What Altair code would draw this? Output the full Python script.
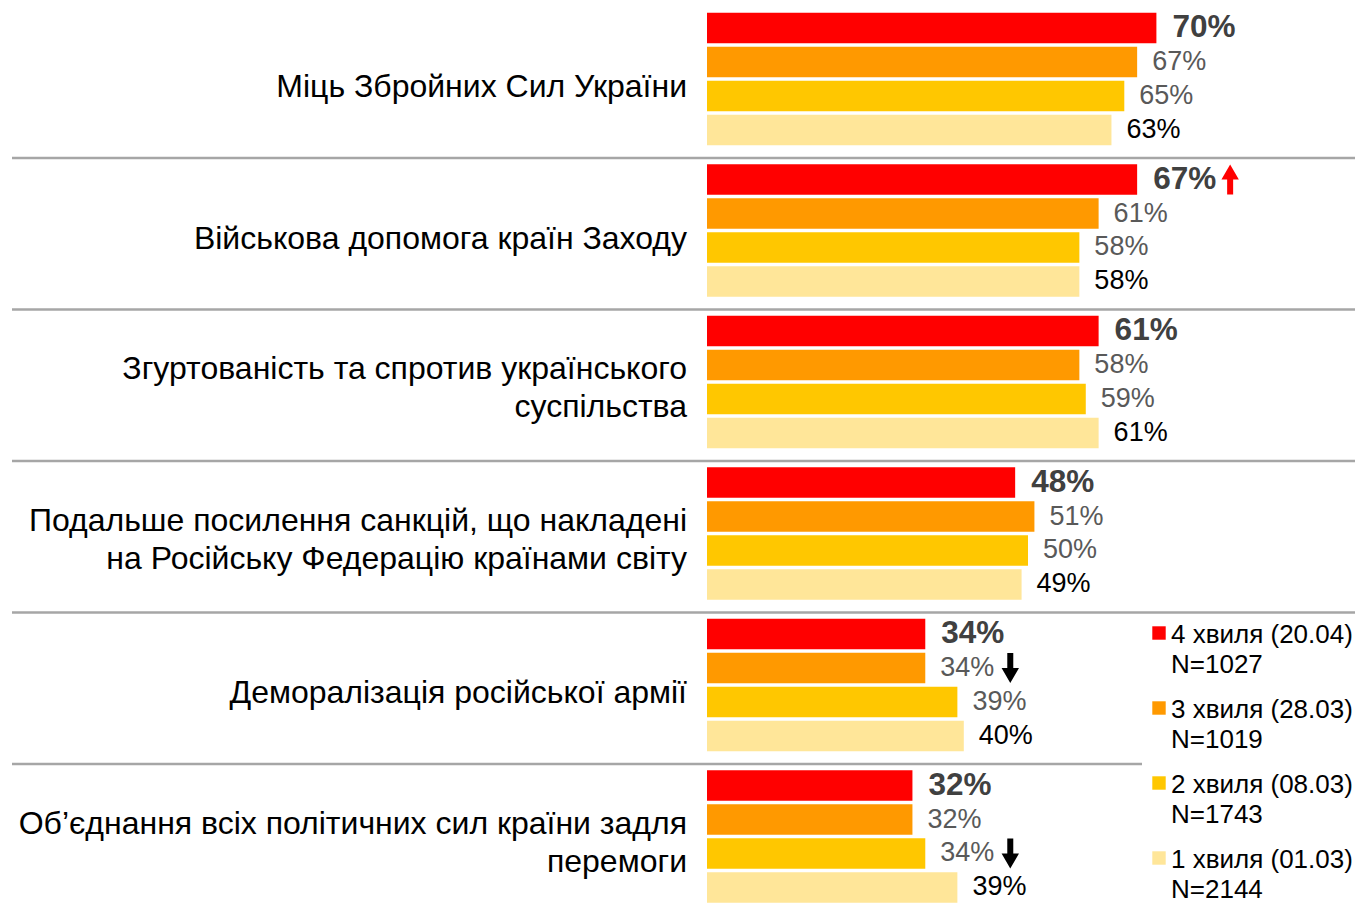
import altair as alt
import pandas as pd

# ---------------- data ----------------
categories = [
    "Міць Збройних Сил України",
    "Військова допомога країн Заходу",
    "Згуртованість та спротив українського\nсуспільства",
    "Подальше посилення санкцій, що накладені\nна Російську Федерацію країнами світу",
    "Деморалізація російської армії",
    "Об’єднання всіх політичних сил країни задля\nперемоги",
]
waves = ["4 хвиля (20.04)", "3 хвиля (28.03)", "2 хвиля (08.03)", "1 хвиля (01.03)"]
wave_n = ["N=1027", "N=1019", "N=1743", "N=2144"]

wave4 = [70, 67, 61, 48, 34, 32]
wave3 = [67, 61, 58, 51, 34, 32]
wave2 = [65, 58, 59, 50, 39, 34]
wave1 = [63, 58, 61, 49, 40, 39]

colors = ["#FF0000", "#FF9900", "#FFC700", "#FFE699"]

# change arrows: (category index, wave index, direction)
arrow_cat = [1, 4, 5]
arrow_wave = [0, 1, 2]
arrow_dir = ["up", "down", "down"]

# ---------------- tables ----------------
series = [wave4, wave3, wave2, wave1]
rows = []
for wi, vals in enumerate(series):
    for ci, v in enumerate(vals):
        rows.append({"cat": categories[ci], "wave": waves[wi], "wi": wi,
                     "value": v, "label": f"{v}%"})
df = pd.DataFrame(rows)

arr = pd.DataFrame({
    "cat": [categories[c] for c in arrow_cat],
    "wave": [waves[w] for w in arrow_wave],
    "value": [series[w][c] for c, w in zip(arrow_cat, arrow_wave)],
    "dir": arrow_dir,
})

sep = pd.DataFrame({"cat": categories[:-1], "idx": list(range(len(categories) - 1))})
cats_df = pd.DataFrame({"cat": categories,
                        "multi": ["\n" in c for c in categories]})
leg = pd.DataFrame({"wave": waves, "text": [f"{w}\n{n}" for w, n in zip(waves, wave_n)]})

FONT = "Liberation Sans"

y_scale = alt.Scale(domain=categories, range=[-4.75, 904.25], paddingInner=0,
                    paddingOuter=0, round=False)
yo_scale = alt.Scale(domain=waves, paddingInner=0.1, paddingOuter=0.278, round=False)
x_scale = alt.Scale(domain=[0, 100])

Y = alt.Y("cat:N", scale=y_scale, axis=None, sort=categories)
YO = alt.YOffset("wave:N", scale=yo_scale, sort=waves)
X = alt.X("value:Q", scale=x_scale, axis=None)

bars = alt.Chart(df).mark_bar().encode(
    x=X, y=Y, yOffset=YO,
    color=alt.Color("wave:N", scale=alt.Scale(domain=waves, range=colors), legend=None),
)

lab_bold = alt.Chart(df).transform_filter("datum.wi == 0").mark_text(
    align="left", baseline="middle", dx=16, font=FONT, fontSize=31.5, fontWeight="bold", color="#404040"
).encode(x=X, y=Y, yOffset=YO, text="label:N")

lab_gray = alt.Chart(df).transform_filter("datum.wi == 1 || datum.wi == 2").mark_text(
    align="left", baseline="middle", dx=15, font=FONT, fontSize=27, color="#595959"
).encode(x=X, y=Y, yOffset=YO, text="label:N")

lab_black = alt.Chart(df).transform_filter("datum.wi == 3").mark_text(
    align="left", baseline="middle", dx=15, font=FONT, fontSize=27, color="#000000"
).encode(x=X, y=Y, yOffset=YO, text="label:N")

UP = "M0,-1L0.58,0L0.2,0L0.2,1L-0.2,1L-0.2,0L-0.58,0Z"
DOWN = "M0,1L0.58,0L0.2,0L0.2,-1L-0.2,-1L-0.2,0L-0.58,0Z"

arrow_up = alt.Chart(arr).transform_filter("datum.dir == 'up'").mark_point(
    shape=UP, filled=True, size=900, color="#FF0000", opacity=1, xOffset=93, yOffset=-1.5
).encode(x=X, y=Y, yOffset=YO)

arrow_down = alt.Chart(arr).transform_filter("datum.dir == 'down'").mark_point(
    shape=DOWN, filled=True, size=900, color="#000000", opacity=1, xOffset=85, yOffset=-7
).encode(x=X, y=Y, yOffset=YO)

Ysep = alt.Y("cat:N", scale=y_scale, axis=None, sort=categories, bandPosition=1)
sep_full = alt.Chart(sep).transform_filter("datum.idx < 4").mark_rule(
    color="#A6A6A6", strokeWidth=2.5, yOffset=3.25
).encode(y=Ysep, x=alt.value(-695), x2=alt.value(660))
sep_short = alt.Chart(sep).transform_filter("datum.idx >= 4").mark_rule(
    color="#A6A6A6", strokeWidth=2.5, yOffset=3.25
).encode(y=Ysep, x=alt.value(-695), x2=alt.value(435))

cat_single = alt.Chart(cats_df).transform_filter("!datum.multi").mark_text(
    align="right", baseline="middle", dy=8, font=FONT, fontSize=32, color="#000000"
).encode(y=Y, x=alt.value(-20), text="cat:N")

cat_multi = alt.Chart(cats_df).transform_filter("datum.multi").mark_text(
    align="right", baseline="middle", dy=-13, font=FONT, fontSize=32, lineHeight=38,
    lineBreak="\n", color="#000000"
).encode(y=Y, x=alt.value(-20), text="cat:N")

main = alt.layer(sep_full, sep_short, bars, lab_bold, lab_gray, lab_black,
                 arrow_up, arrow_down, cat_single, cat_multi)

Yleg = alt.Y("wave:N", sort=waves, axis=None,
             scale=alt.Scale(type="point", domain=waves, range=[627, 852], padding=0))
leg_sq = alt.Chart(leg).mark_square(size=180, opacity=1, yOffset=-2).encode(
    y=Yleg, x=alt.value(452),
    color=alt.Color("wave:N", scale=alt.Scale(domain=waves, range=colors), legend=None),
)
leg_txt = alt.Chart(leg).mark_text(
    align="left", baseline="middle", font=FONT, fontSize=26, lineHeight=30,
    lineBreak="\n", color="#000000"
).encode(y=Yleg, x=alt.value(464), text="text:N")
legend = alt.layer(leg_sq, leg_txt)

chart = alt.layer(main, legend).resolve_scale(y="independent").properties(
    width=642, height=895,
    padding={"left": 699, "top": 0, "right": 6, "bottom": 0},
    autosize=alt.AutoSizeParams(type="none"),
).configure_view(stroke=None)

chart.save("out.html", embed_options={"renderer": "svg", "actions": False})
